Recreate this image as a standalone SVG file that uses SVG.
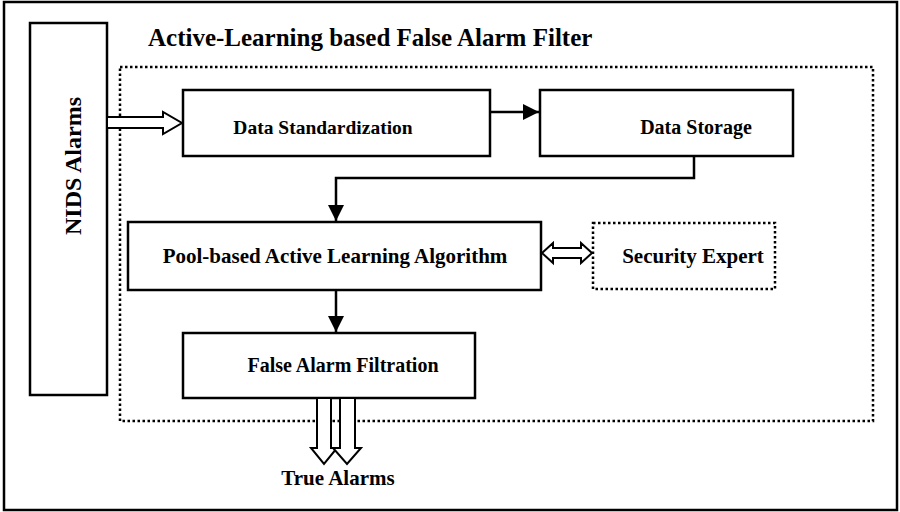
<svg xmlns="http://www.w3.org/2000/svg" width="900" height="512" viewBox="0 0 900 512">
  <style>
    .box { fill: #fff; stroke: #000; stroke-width: 2.5; }
    .dot { fill: none; stroke: #000; stroke-width: 2.5; stroke-dasharray: 2.5 2.5; }
    .lbl { font-family: "Liberation Serif", "Times New Roman", serif; font-weight: bold; fill: #000; }
    .conn { fill: none; stroke: #000; stroke-width: 2.5; }
    .hollow { fill: #fff; stroke: #000; stroke-width: 2; stroke-linejoin: miter; }
  </style>
  <defs>
    <marker id="tri" viewBox="0 0 10 10" refX="10" refY="5" markerWidth="16" markerHeight="16" markerUnits="userSpaceOnUse" orient="auto">
      <path d="M0,0 L10,5 L0,10 z" fill="#000"/>
    </marker>
  </defs>

  <!-- outer frame -->
  <rect x="4" y="2" width="893" height="508" fill="#fff" stroke="#000" stroke-width="2.5"/>

  <!-- filter boundary -->
  <g id="filter">
    <rect class="dot" x="120" y="67" width="753" height="354"/>
    <text class="lbl" x="148" y="46" font-size="25">Active-Learning based False Alarm Filter</text>
  </g>

  <g id="nids">
    <rect class="box" x="30" y="23" width="77" height="372"/>
    <text class="lbl" font-size="24" text-anchor="middle" transform="translate(81,166) rotate(-90)">NIDS Alarms</text>
  </g>

  <g id="standardization">
    <rect class="box" x="183" y="90" width="307" height="66"/>
    <text class="lbl" x="323" y="134" font-size="19.5" text-anchor="middle">Data Standardization</text>
  </g>

  <g id="storage">
    <rect class="box" x="540" y="90" width="253" height="66"/>
    <text class="lbl" x="696" y="134" font-size="20" text-anchor="middle">Data Storage</text>
  </g>

  <g id="pool">
    <rect class="box" x="128" y="222" width="413" height="68"/>
    <text class="lbl" x="335" y="263" font-size="21" text-anchor="middle">Pool-based Active Learning Algorithm</text>
  </g>

  <g id="expert">
    <rect class="dot" x="593" y="223" width="182" height="66"/>
    <text class="lbl" x="693" y="263" font-size="21" text-anchor="middle">Security Expert</text>
  </g>

  <g id="filtration">
    <rect class="box" x="183" y="333" width="292" height="65"/>
    <text class="lbl" x="343" y="372" font-size="20" text-anchor="middle">False Alarm Filtration</text>
  </g>

  <g id="true-alarms">
    <text class="lbl" x="338" y="485" font-size="21" text-anchor="middle">True Alarms</text>
  </g>

  <g id="connectors">
    <!-- NIDS to standardization (hollow arrow) -->
    <path class="hollow" d="M107,117 L163,117 L163,112 L182,123 L163,134 L163,128 L107,128 z"/>
    <!-- standardization to storage -->
    <path class="conn" d="M490,112 L539,112" marker-end="url(#tri)"/>
    <!-- storage to pool -->
    <path class="conn" d="M694,156 L694,178 L336,178 L336,221" marker-end="url(#tri)"/>
    <!-- pool to filtration -->
    <path class="conn" d="M336,290 L336,332" marker-end="url(#tri)"/>
    <!-- pool <-> expert (hollow double arrow) -->
    <path class="hollow" d="M542,253 L553,243 L553,248 L581,248 L581,243 L592,253 L581,263 L581,258 L553,258 L553,263 z"/>
    <!-- filtration to true alarms (two hollow arrows) -->
    <path class="hollow" d="M317,398 L317,448 L311,448 L324,464 L337,448 L331,448 L331,398 z"/>
    <path class="hollow" d="M340,398 L340,448 L333,448 L347,464 L361,448 L355,448 L355,398 z"/>
  </g>
</svg>
